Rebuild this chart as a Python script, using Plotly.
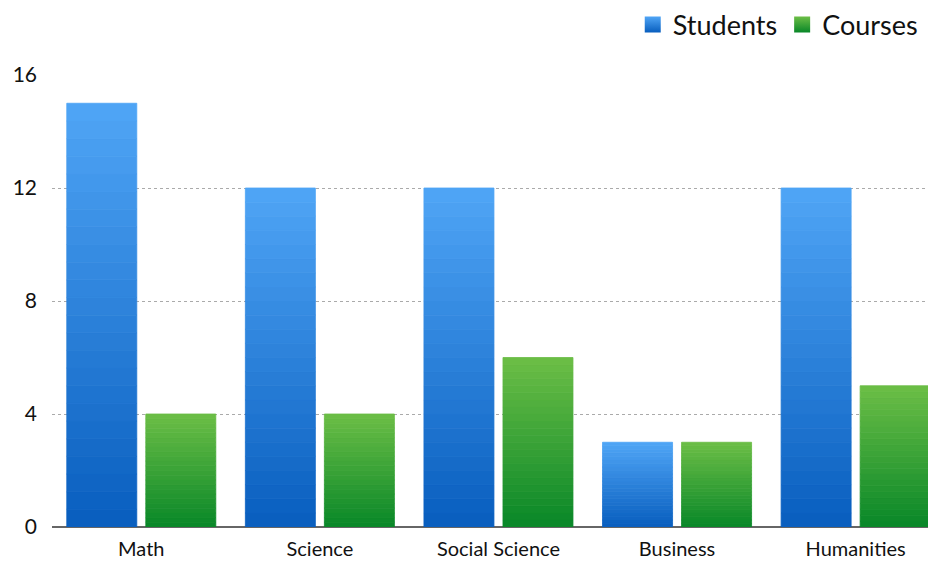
import plotly.graph_objects as go

categories = ["Math", "Science", "Social Science", "Business", "Humanities"]
students = [15, 12, 12, 3, 12]
courses = [4, 4, 6, 3, 5]
y_ticks = [0, 4, 8, 12, 16]

FONT = "Lato, 'Open Sans', sans-serif"
N = 24  # gradient steps per bar


def lerp(c1, c2, t):
    return "rgb(%d,%d,%d)" % tuple(round(a + (b - a) * t) for a, b in zip(c1, c2))


series = [
    ("Students", students, (80, 165, 246), (8, 94, 190)),
    ("Courses", courses, (108, 190, 70), (8, 135, 40)),
]

fig = go.Figure()
for name, vals, top, bot in series:
    for k in range(N):
        t = (k + 0.5) / N
        col = lerp(bot, top, t)
        fig.add_trace(go.Bar(
            x=categories,
            y=[v / N for v in vals],
            base=[v * k / N for v in vals],
            offsetgroup=name,
            marker=dict(color=col, line=dict(width=0.8, color=col)),
            showlegend=False,
            hoverinfo="skip",
        ))

for name, vals, top, bot in series:
    fig.add_trace(go.Scatter(
        x=[None], y=[None], name=name, mode="markers",
        marker=dict(symbol="square", size=28, color=lerp(bot, top, 1.0),
                    gradient=dict(type="vertical", color=lerp(bot, top, 0.0))),
        showlegend=True,
    ))

fig.update_layout(
    width=928, height=556,
    margin=dict(l=44, r=0, t=67, b=37, autoexpand=False),
    paper_bgcolor="white", plot_bgcolor="white",
    barmode="group", bargap=0.115, bargroupgap=0.114,
    font=dict(family=FONT, size=18, color="#111"),
    legend=dict(orientation="h", xref="paper", yref="paper",
                x=0.985, xanchor="right", y=1.165, yanchor="top",
                font=dict(size=27, family=FONT), itemsizing="trace",
                traceorder="normal", itemwidth=30),
    xaxis=dict(range=[-0.5, 4.45], showgrid=False, ticks="",
               tickfont=dict(size=20), showline=False, automargin=False,
               ticklabelstandoff=8),
    yaxis=dict(range=[0, 16], tickvals=y_ticks, showgrid=True,
               gridcolor="#aaaaaa", griddash="dot", gridwidth=1,
               zeroline=True, zerolinecolor="#666666", zerolinewidth=2,
               tickfont=dict(size=21), ticks="", ticklabelstandoff=14,
               automargin=False),
)

fig.write_html("out.html")
